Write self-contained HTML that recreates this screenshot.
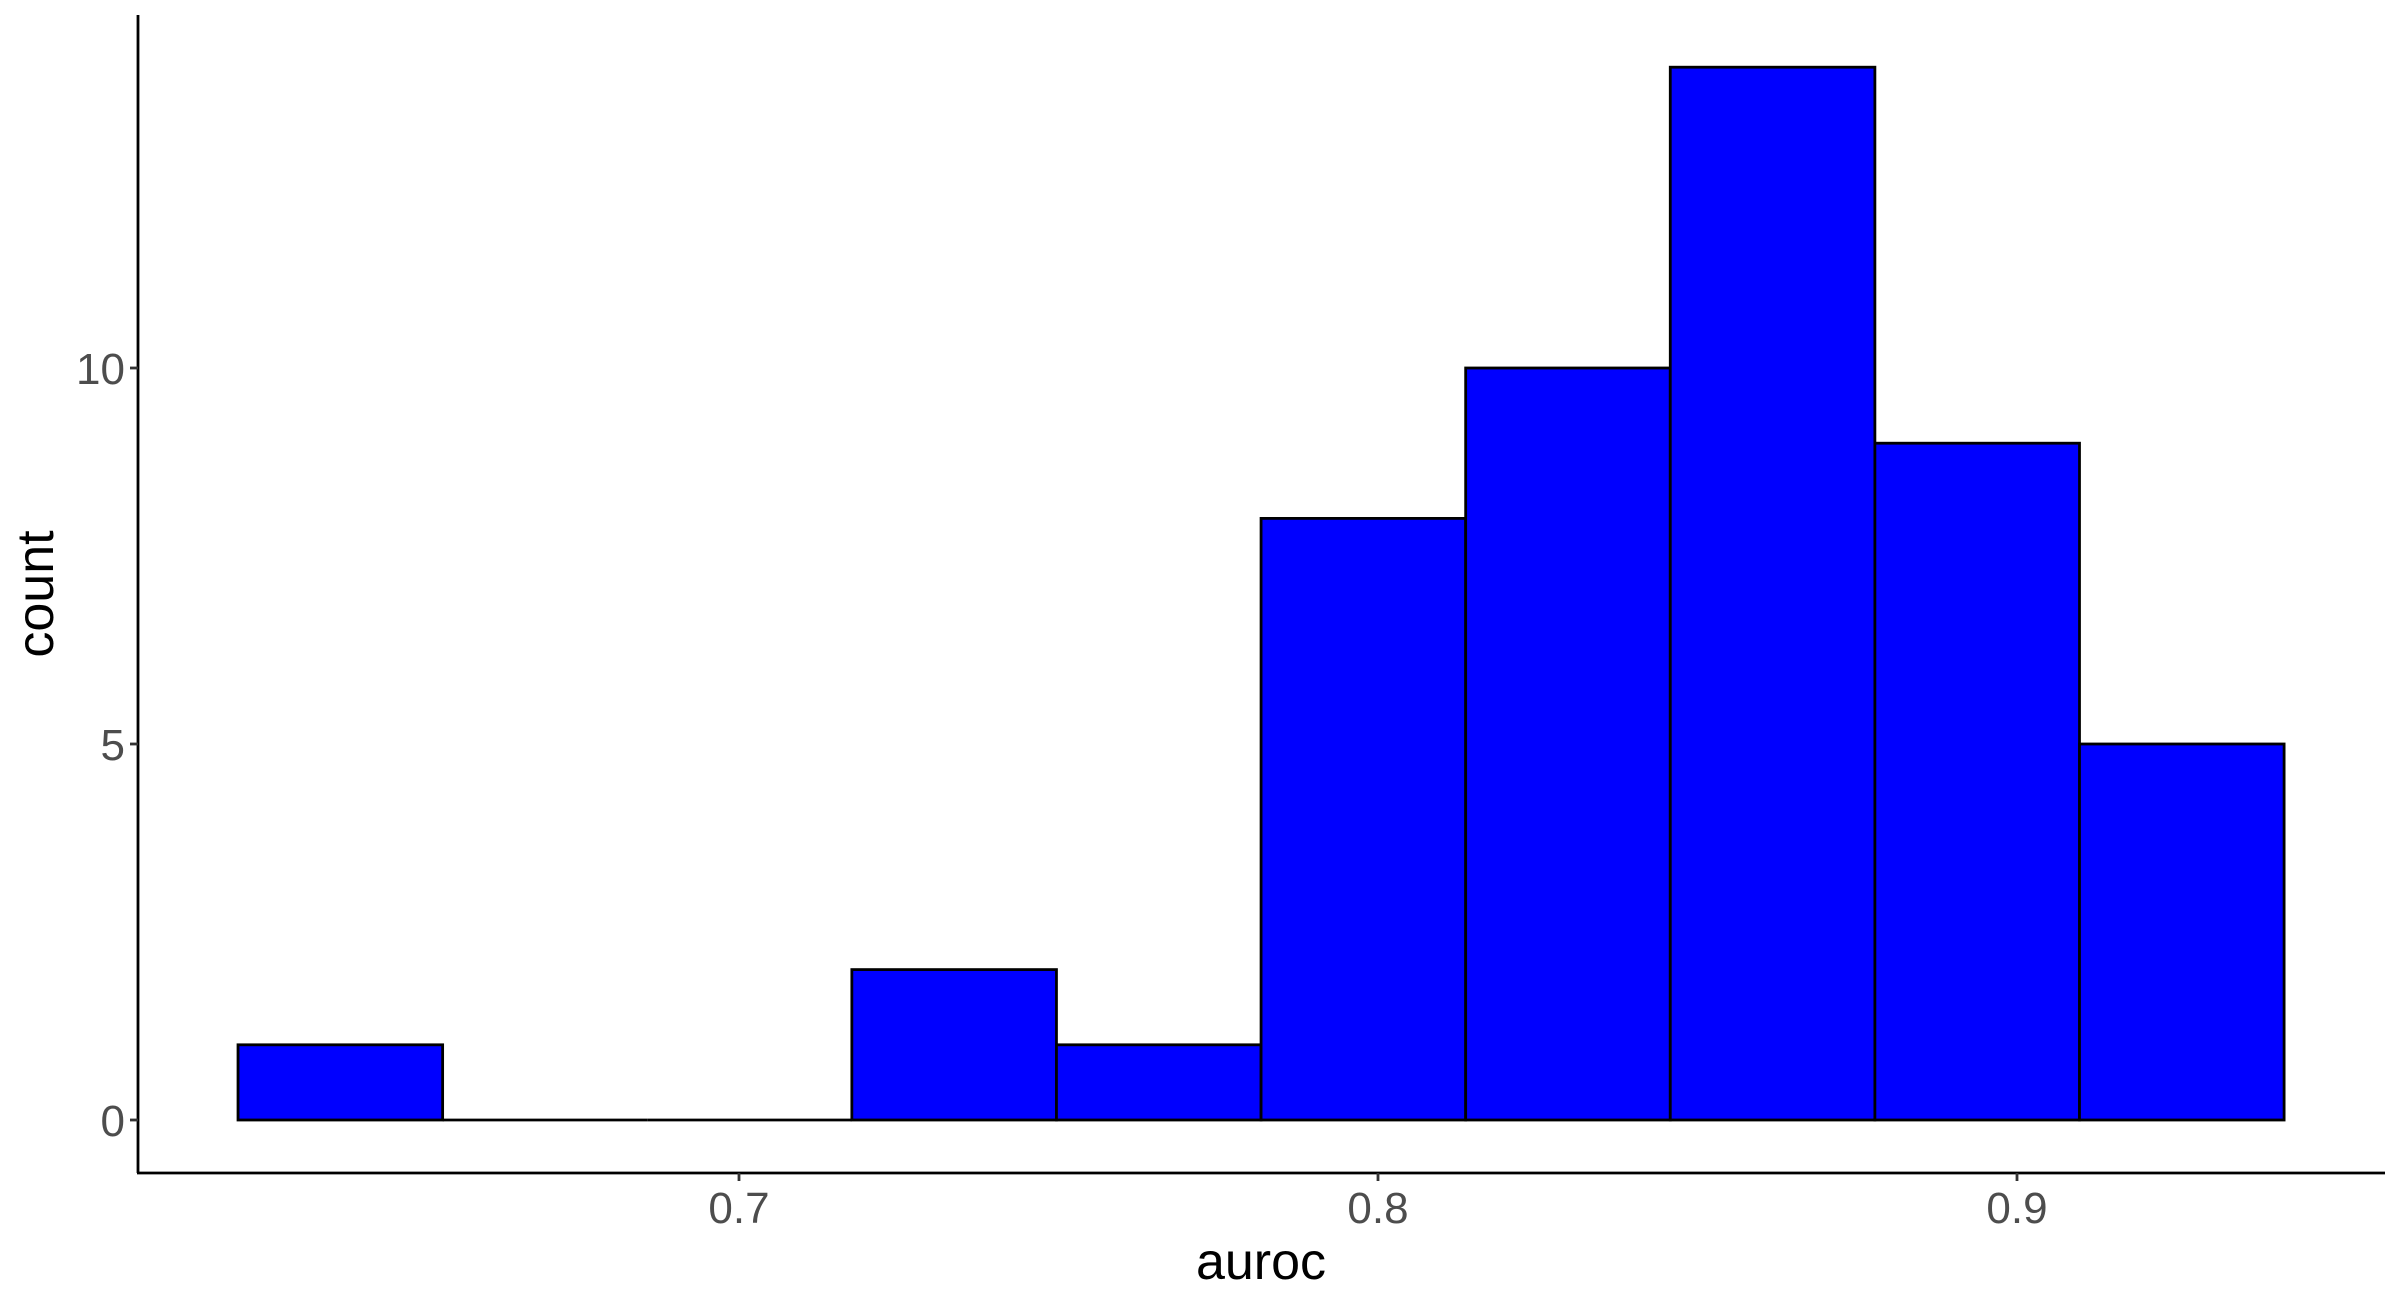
<!DOCTYPE html>
<html><head><meta charset="utf-8"><style>
html,body{margin:0;padding:0;background:#fff;}
svg{display:block;font-family:"Liberation Sans",Arial,sans-serif;}
</style></head><body>
<svg id="chart" width="2400" height="1302" viewBox="0 0 2400 1302">
<g id="bars"></g>
<g id="axes"></g>
</svg>
<script>
const binStart = 0.62160;
const binWidth = 0.03202;
const counts = [1, 0, 0, 2, 1, 8, 10, 14, 9, 5];
const xTicks = [0.7, 0.8, 0.9];
const xTickLabels = ["0.7", "0.8", "0.9"];
const yTicks = [0, 5, 10];
const yTickLabels = ["0", "5", "10"];

const NS = "http://www.w3.org/2000/svg";
function X(v){ return 739 + (v - 0.7) * 6390; }
function Y(c){ return 1120 - c * 75.2; }
function mk(tag, attrs, parent){
  const e = document.createElementNS(NS, tag);
  for (const k in attrs) e.setAttribute(k, attrs[k]);
  parent.appendChild(e);
  return e;
}
const bars = document.getElementById('bars');
const axes = document.getElementById('axes');
counts.forEach((c, i) => {
  const x0 = X(binStart + i * binWidth), x1 = X(binStart + (i + 1) * binWidth);
  let r;
  if (c > 0) {
    r = mk('rect', {x: x0, y: Y(c), width: x1 - x0, height: Y(0) - Y(c), fill: '#0000ff', stroke: '#000', 'stroke-width': 2.8}, bars);
  } else {
    r = mk('line', {x1: x0, y1: Y(0), x2: x1, y2: Y(0), stroke: '#000', 'stroke-width': 2.8}, bars);
  }
  
  
});
let a = mk('line', {x1: 138, y1: 15, x2: 138, y2: 1173, stroke: '#000', 'stroke-width': 2.8}, axes);


a = mk('line', {x1: 137, y1: 1173, x2: 2385, y2: 1173, stroke: '#000', 'stroke-width': 2.8}, axes);


xTicks.forEach((v, i) => {
  mk('line', {x1: X(v), y1: 1173, x2: X(v), y2: 1181, stroke: '#333', 'stroke-width': 2.8}, axes);
  const t = mk('text', {x: X(v), y: 1223, 'text-anchor': 'middle', 'font-size': 44, fill: '#4d4d4d'}, axes);
  t.textContent = xTickLabels[i];
  
  
});
yTicks.forEach((v, i) => {
  mk('line', {x1: 130, y1: Y(v), x2: 138, y2: Y(v), stroke: '#333', 'stroke-width': 2.8}, axes);
  const t = mk('text', {x: 125, y: Y(v) + 16, 'text-anchor': 'end', 'font-size': 44, fill: '#4d4d4d'}, axes);
  t.textContent = yTickLabels[i];
  
  
});
let t = mk('text', {x: 1261, y: 1279, 'text-anchor': 'middle', 'font-size': 52, fill: '#000'}, axes);
t.textContent = 'auroc';


t = mk('text', {x: 53, y: 594, 'text-anchor': 'middle', 'font-size': 52, fill: '#000', transform: 'rotate(-90 53 594)'}, axes);
t.textContent = 'count';


</script>
</body></html>
